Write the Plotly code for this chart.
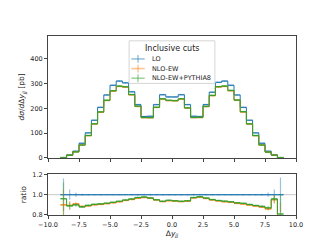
import numpy as np
import plotly.graph_objects as go

# ---------------- data ----------------
bin_edges = np.arange(-9.0, 9.0001, 0.5)

lo = [1, 12, 27, 59, 101, 152, 204, 254, 293, 310, 303, 267, 215, 167, 168, 215, 255, 246,
      246, 255, 215, 168, 167, 215, 265, 305, 310, 293, 254, 204, 152, 101, 59, 27, 12, 1]
lo_err = [0.16, 0.6, 0.55, 0.6, 0.8, 1.1, 1.4, 1.7, 1.9, 2.0, 2.0, 1.8, 1.6, 1.4, 1.4, 1.6, 1.8, 1.7,
          1.7, 1.8, 1.6, 1.4, 1.4, 1.6, 1.8, 2.0, 2.0, 1.9, 1.7, 1.4, 1.1, 0.8, 0.6, 0.55, 0.6, 0.17]

nlo_ew = [0.90, 10.74, 24.57, 52.2, 89.9, 136.8, 184.6, 231.6, 269.6, 288.3, 285.7, 254.4, 207.5,
          162.3, 162.1, 203.8, 237.7, 231.2, 230.5, 237.7, 201.2, 162.6, 162.8, 207.0, 251.2, 286.1,
          288.3, 271.0, 232.4, 185.2, 136.5, 89.7, 51.8, 23.2, 11.4, 0.72]
nlo_ew_err = [0.15, 0.5, 0.5, 0.6, 0.8, 1.0, 1.3, 1.6, 1.8, 1.9, 1.9, 1.7, 1.5, 1.3, 1.3, 1.5, 1.7, 1.6,
              1.6, 1.7, 1.5, 1.3, 1.3, 1.5, 1.7, 1.9, 1.9, 1.8, 1.6, 1.3, 1.0, 0.8, 0.6, 0.5, 0.5, 0.2]

nlo_ew_py8 = [0.96, 10.68, 24.3, 51.9, 90.4, 137.6, 185.6, 232.7, 271.0, 289.9, 287.2, 255.8, 209.0,
              163.2, 162.6, 204.3, 238.4, 232.5, 231.2, 238.4, 202.1, 163.3, 163.7, 208.1, 252.3,
              287.6, 290.2, 272.5, 233.7, 186.7, 137.4, 90.3, 52.2, 23.5, 11.5, 0.81]
nlo_ew_py8_err = [0.16, 0.45, 0.5, 0.6, 0.8, 1.0, 1.3, 1.6, 1.8, 1.9, 1.9, 1.7, 1.5, 1.3, 1.3, 1.5, 1.7,
                  1.6, 1.6, 1.7, 1.5, 1.3, 1.3, 1.5, 1.7, 1.9, 1.9, 1.8, 1.6, 1.3, 1.0, 0.8, 0.6, 0.5,
                  0.45, 0.2]

series_names = ["LO", "NLO-EW", "NLO-EW+PYTHIA8"]
legend_title = "Inclusive cuts"
colors = ["#1f77b4", "#ff7f0e", "#2ca02c"]
light = ["rgba(31,119,180,0.45)", "rgba(255,127,14,0.45)", "rgba(44,160,44,0.45)"]

centers = 0.5 * (bin_edges[:-1] + bin_edges[1:])
half_w = 0.5 * (bin_edges[1] - bin_edges[0])

lo_arr = np.array(lo, dtype=float)
vals = [lo_arr, np.array(nlo_ew), np.array(nlo_ew_py8)]
errs = [np.array(lo_err), np.array(nlo_ew_err), np.array(nlo_ew_py8_err)]
ratios = [v / lo_arr for v in vals]
ratio_errs = [e / lo_arr for e in errs]

fig = go.Figure()

def add_series(v, e, i, xa, ya):
    fig.add_trace(go.Scatter(
        x=centers, y=v, mode="markers", marker=dict(size=0.1, color="rgba(0,0,0,0)"),
        error_x=dict(type="constant", value=half_w, color=light[i], thickness=1.6, width=0),
        error_y=dict(type="data", array=e, color=light[i], thickness=1.2, width=0),
        xaxis=xa, yaxis=ya, showlegend=False, hoverinfo="skip"))
    fig.add_trace(go.Scatter(
        x=bin_edges, y=np.append(v, v[-1]), mode="lines", line_shape="hv",
        line=dict(color=colors[i], width=1.0),
        xaxis=xa, yaxis=ya, showlegend=False, hoverinfo="skip"))

for i in range(3):
    add_series(vals[i], errs[i], i, "x", "y")
for i in range(3):
    add_series(ratios[i], ratio_errs[i], i, "x2", "y2")

fig.add_shape(type="line", xref="x2 domain", yref="y2", x0=0, x1=1, y0=1, y1=1,
              line=dict(color="#bbbbbb", width=0.8), layer="below")

# ---- compact legend (matplotlib style) ----
LX0, LX1, LY0, LY1 = 0.327, 0.673, 0.735, 0.973
fig.add_shape(type="rect", xref="paper", yref="paper", x0=LX0, x1=LX1, y0=LY0, y1=LY1,
              line=dict(color="#d6d6d6", width=1), fillcolor="rgba(255,255,255,0.85)",
              layer="above")
fig.add_annotation(xref="paper", yref="paper", x=0.5, y=0.928, text=legend_title,
                   showarrow=False, font=dict(size=8, color="#222"), xanchor="center",
                   yanchor="middle")
item_y = [0.872, 0.818, 0.764]
for i in range(3):
    fig.add_shape(type="line", xref="paper", yref="paper", x0=0.336, x1=0.39,
                  y0=item_y[i], y1=item_y[i], line=dict(color=light[i], width=1.6))
    fig.add_shape(type="line", xref="paper", yref="paper", x0=0.363, x1=0.363,
                  y0=item_y[i] - 0.022, y1=item_y[i] + 0.022, line=dict(color=light[i], width=1.4))
    fig.add_annotation(xref="paper", yref="paper", x=0.413, y=item_y[i], text=series_names[i],
                       showarrow=False, font=dict(size=6.5, color="#222"), xanchor="left",
                       yanchor="middle")

axis_common = dict(showline=True, linecolor="#444", linewidth=1, mirror=True,
                   ticks="outside", ticklen=3, tickcolor="#444", tickwidth=0.8,
                   showgrid=False, zeroline=False,
                   tickfont=dict(family="DejaVu Sans", size=6.5, color="#222"))

fig.update_layout(
    width=320, height=240,
    margin=dict(l=40, r=32, t=28, b=27),
    paper_bgcolor="white", plot_bgcolor="white",
    font=dict(family="DejaVu Sans", size=6.5, color="#222"),
    xaxis=dict(domain=[0, 1], range=[-10, 10], dtick=2.5, showticklabels=False,
               anchor="y", matches="x2", **axis_common),
    yaxis=dict(domain=[0.319, 1], range=[0, 492], dtick=100,
               title=dict(text="<i>dσ</i>/<i>d</i>Δ<i>y</i><sub><i>jj</i></sub> [pb]",
                          font=dict(size=7.5), standoff=4),
               **axis_common),
    xaxis2=dict(domain=[0, 1], range=[-10, 10], dtick=2.5, tickformat=".1f", anchor="y2",
                title=dict(text="Δ<i>y</i><sub><i>jj</i></sub>", font=dict(size=7.5), standoff=2),
                **axis_common),
    yaxis2=dict(domain=[0, 0.227], range=[0.8, 1.2], dtick=0.2, tickformat=".1f", anchor="x2",
                title=dict(text="ratio", font=dict(size=7.5), standoff=4),
                **axis_common),
    showlegend=False,
)

fig.write_html("out.html")
